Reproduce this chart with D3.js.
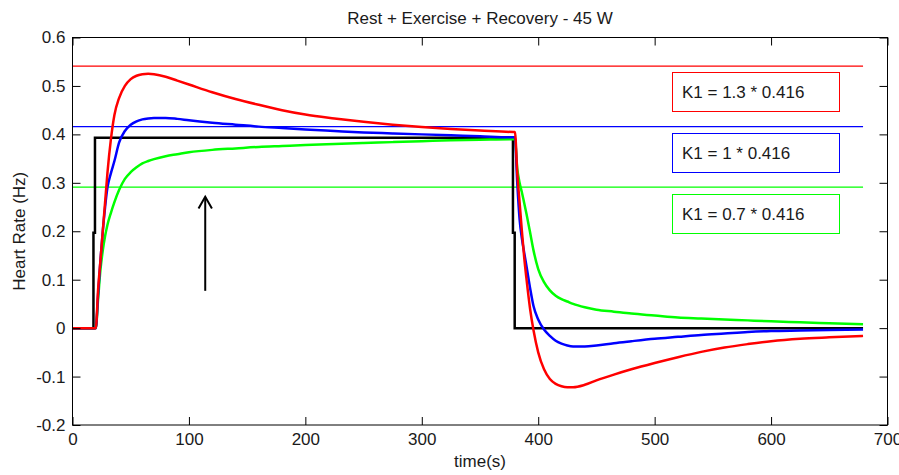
<!DOCTYPE html>
<html>
<head>
<meta charset="utf-8">
<script src="https://cdn.jsdelivr.net/npm/d3@7"></script>
<style>
  html, body { margin: 0; padding: 0; background: #fff; }
  svg { display: block; }
  text { font-family: "Liberation Sans", Arial, Helvetica, sans-serif; fill: #1a1a1a; }
</style>
</head>
<body>
<svg id="chart" width="899" height="475"></svg>
<script>
// ---------------- data ----------------
const chartTitle = "Rest + Exercise + Recovery - 45 W";
const xLabel = "time(s)";
const yLabel = "Heart Rate (Hz)";

const xTicks = [0, 100, 200, 300, 400, 500, 600, 700];
const yTicks = [-0.2, -0.1, 0, 0.1, 0.2, 0.3, 0.4, 0.5, 0.6];

// input step (black)
const stepT = [0, 18, 18, 19.3, 19.3, 378.3, 378.3, 379.8, 379.8, 679];
const stepV = [0, 0, 0.197, 0.197, 0.393, 0.393, 0.197, 0.197, 0, 0];

// common time grid of the three responses
const time = [0,20,22,24,26,28,30,33,36,40,
  45,50,55,60,65,70,80,90,100,120,
  140,160,180,200,225,250,275,300,325,350,
  379,380,382,384,386,388,390,393,396,400,
  405,410,415,420,425,430,440,450,465,480,
  500,520,540,560,580,600,625,650,679];

const redV = [0,0,0.08,0.14,0.2,0.26,0.32,0.39,0.44,0.475,
  0.5,0.514,0.521,0.524,0.525,0.524,0.519,0.511,0.503,0.487,
  0.473,0.461,0.45,0.441,0.433,0.426,0.42,0.415,0.411,0.408,
  0.405,0.405,0.32,0.26,0.2,0.145,0.1,0.04,-0.005,-0.05,
  -0.085,-0.105,-0.115,-0.12,-0.122,-0.122,-0.117,-0.108,-0.096,-0.085,
  -0.072,-0.06,-0.049,-0.04,-0.033,-0.027,-0.022,-0.019,-0.016];

const blueV = [0,0,0.07,0.14,0.2,0.25,0.29,0.32,0.345,0.383,
  0.407,0.42,0.427,0.431,0.433,0.434,0.434,0.432,0.429,0.424,
  0.42,0.416,0.413,0.41,0.407,0.404,0.402,0.4,0.398,0.396,
  0.394,0.394,0.3,0.225,0.185,0.155,0.127,0.083,0.045,0.018,
  -0.003,-0.016,-0.026,-0.032,-0.036,-0.038,-0.038,-0.036,-0.031,-0.027,
  -0.022,-0.018,-0.014,-0.011,-0.008,-0.006,-0.005,-0.004,-0.003];

const greenV = [0,0,0.06,0.12,0.16,0.19,0.213,0.238,0.26,0.285,
  0.308,0.322,0.332,0.34,0.345,0.349,0.355,0.359,0.363,0.368,
  0.371,0.374,0.376,0.378,0.38,0.382,0.384,0.386,0.388,0.389,
  0.39,0.39,0.33,0.3,0.28,0.258,0.235,0.198,0.16,0.122,
  0.095,0.078,0.067,0.06,0.055,0.05,0.043,0.038,0.034,0.03,
  0.026,0.022,0.02,0.018,0.016,0.014,0.012,0.01,0.008];

// reference levels K1 * 0.416
const k1Factors = [1.3, 1, 0.7];
const k1Base = 0.416;
const levelEnd = 679;
const legendLabels = ["K1 = 1.3 * 0.416", "K1 = 1 * 0.416", "K1 = 0.7 * 0.416"];
const seriesColors = ["#ff0000", "#0000ff", "#00ff00"];

// annotation arrow (time, value)
const arrowT = 114;
const arrowFrom = 0.077;
const arrowTo = 0.271;

// ---------------- drawing ----------------
const svg = d3.select("#chart");
const X0 = 72.5, X1 = 887.5, Y0 = 37.5, Y1 = 425;
const fs = 17;

const x = d3.scaleLinear().domain([0, 700]).range([X0, X1]);
const y = d3.scaleLinear().domain([-0.2, 0.6]).range([Y1, Y0]);

// reference horizontal lines
const levelG = svg.append("g").attr("class", "levels");
levelG.selectAll("path").data(k1Factors).join("path")
  .attr("d", f => `M${x(0)},${y(f * k1Base)}H${x(levelEnd)}`)
  .style("stroke", (f, i) => seriesColors[i])
  .style("stroke-width", "1.2px")
  .style("fill", "none");

svg.append("clipPath").attr("id", "plotclip")
  .append("rect").attr("x", X0).attr("y", Y0).attr("width", X1 - X0).attr("height", Y1 - Y0);

const g = svg.append("g").attr("clip-path", "url(#plotclip)");

// step input
const stepLine = d3.line().x((d, i) => x(stepT[i])).y((d, i) => y(stepV[i]));
g.append("path").datum(stepT).attr("d", stepLine)
  .attr("fill", "none").attr("stroke", "#000").attr("stroke-width", 2.5);

const curve = d3.line().x((d, i) => x(time[i])).y(d => y(d)).curve(d3.curveMonotoneX);
[[greenV, seriesColors[2]], [blueV, seriesColors[1]], [redV, seriesColors[0]]].forEach(([vals, c]) => {
  g.append("path").datum(vals).attr("d", curve)
    .attr("fill", "none").attr("stroke", c).attr("stroke-width", 2.5)
    .attr("stroke-linejoin", "round");
});

// axes box
svg.append("rect").attr("x", X0).attr("y", Y0).attr("width", X1 - X0).attr("height", Y1 - Y0)
  .attr("fill", "none").attr("stroke", "#000").attr("stroke-width", 1);

function styleAxis(sel, labels) {
  sel.select(".domain").remove();
  sel.selectAll(".tick line").attr("stroke", "#000");
  sel.selectAll(".tick text").style("font-size", fs + "px").attr("fill", "#1a1a1a");
  if (!labels) sel.selectAll(".tick text").remove();
}

svg.append("g").attr("transform", `translate(0,${Y1})`)
  .call(d3.axisBottom(x).tickValues(xTicks).tickSize(-8).tickPadding(8).tickFormat(d3.format("d")))
  .call(s => styleAxis(s, true));
svg.append("g").attr("transform", `translate(0,${Y0})`)
  .call(d3.axisTop(x).tickValues(xTicks).tickSize(-8))
  .call(s => styleAxis(s, false));
svg.append("g").attr("transform", `translate(${X0},0)`)
  .call(d3.axisLeft(y).tickValues(yTicks).tickSize(-8).tickPadding(7)
    .tickFormat(d => d3.format(".1~f")(d).replace("−", "-")))
  .call(s => styleAxis(s, true));
svg.append("g").attr("transform", `translate(${X1},0)`)
  .call(d3.axisRight(y).tickValues(yTicks).tickSize(-8))
  .call(s => styleAxis(s, false));

svg.selectAll(".tick text").attr("font-family", null);

// title and axis labels
svg.append("text").attr("x", (X0 + X1) / 2).attr("y", 24).attr("text-anchor", "middle")
  .style("font-size", fs + "px").text(chartTitle);
svg.append("text").attr("x", (X0 + X1) / 2).attr("y", 467).attr("text-anchor", "middle")
  .style("font-size", fs + "px").text(xLabel);
svg.append("text").attr("transform", `translate(25,${(Y0 + Y1) / 2}) rotate(-90)`)
  .attr("text-anchor", "middle").style("font-size", fs + "px").text(yLabel);

// legend boxes
legendLabels.forEach((lab, i) => {
  const by = 72.5 + i * 61;
  svg.append("rect").attr("x", 672.5).attr("y", by).attr("width", 167).attr("height", 39)
    .attr("fill", "#fff").attr("stroke", seriesColors[i]).attr("stroke-width", 1);
  svg.append("text").attr("x", 682).attr("y", by + 25).style("font-size", fs + "px").text(lab);
});

// arrow
const ax = x(arrowT), ay0 = y(arrowFrom), ay1 = y(arrowTo);
svg.append("line").attr("x1", ax).attr("x2", ax).attr("y1", ay0).attr("y2", ay1)
  .attr("stroke", "#000").attr("stroke-width", 2);
svg.append("path").attr("d", `M${ax - 6.7},${ay1 + 11.6}L${ax},${ay1}L${ax + 6.7},${ay1 + 11.6}`)
  .attr("fill", "none").attr("stroke", "#000").attr("stroke-width", 2);
</script>
</body>
</html>
